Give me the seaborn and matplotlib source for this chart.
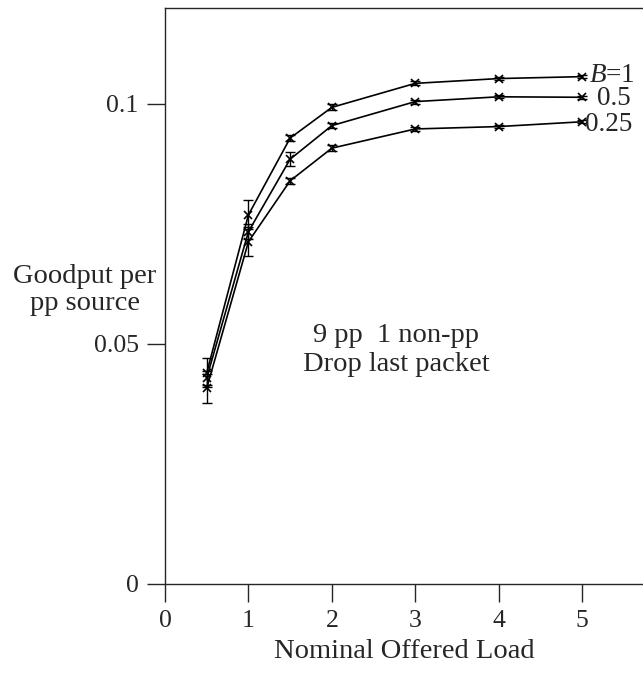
import matplotlib
matplotlib.use("Agg")
import matplotlib.pyplot as plt
import seaborn as sns
import pandas as pd

load = [0.5, 1, 1.5, 2, 3, 4, 5]
b_labels = ["1", "0.5", "0.25"]
good_b1 = [0.0440, 0.0769, 0.0929, 0.0993, 0.1043, 0.1053, 0.1057]
good_b05 = [0.0429, 0.0734, 0.0885, 0.0955, 0.1005, 0.1015, 0.1014]
good_b025 = [0.0408, 0.0713, 0.0840, 0.0908, 0.0948, 0.0953, 0.0963]
err_b1 = [0.0030, 0.0030, 0.0006, 0.0006, 0.0004, 0.0003, 0.0003]
err_b05 = [0.0015, 0.0015, 0.0014, 0.0006, 0.0004, 0.0003, 0.0003]
err_b025 = [0.0030, 0.0030, 0.0006, 0.0006, 0.0004, 0.0003, 0.0003]

series = [good_b1, good_b05, good_b025]
errs = [err_b1, err_b05, err_b025]

rows = []
for lab, ys in zip(b_labels, series):
    for x, y in zip(load, ys):
        rows.append({"load": x, "goodput": y, "B": lab})
df = pd.DataFrame(rows)

sns.set_style("ticks")
plt.rcParams["font.family"] = ["Liberation Serif", "DejaVu Serif"]
plt.rcParams["mathtext.fontset"] = "custom"
plt.rcParams["mathtext.it"] = "Liberation Serif:italic"
plt.rcParams["mathtext.rm"] = "Liberation Serif"

fig = plt.figure(figsize=(6.43, 6.77), dpi=100)
ax = fig.add_axes([165 / 643, 93 / 677, 1 - 165 / 643, 576 / 677])

sns.lineplot(data=df, x="load", y="goodput", hue="B", palette=["black"] * 3,
             marker="x", markersize=6, markeredgewidth=1.2,
             markeredgecolor="black", linewidth=1.2,
             legend=False, ax=ax)
for ys, es in zip(series, errs):
    ax.errorbar(load, ys, yerr=es, fmt="none", ecolor="black",
                elinewidth=1.0, capsize=3.5, capthick=1.0)

ax.set_xlim(0, 5.73)
ax.set_ylim(0, 0.12)
ax.set_xticks([0, 1, 2, 3, 4, 5])
ax.set_xticklabels(["0", "1", "2", "3", "4", "5"])
ax.set_yticks([0, 0.05, 0.1])
ax.set_yticklabels(["0", "0.05", "0.1"])
ax.tick_params(direction="out", length=13, width=1.0, labelsize=18.5, pad=6)
ax.spines["right"].set_visible(False)
for s in ["left", "bottom", "top"]:
    ax.spines[s].set_linewidth(1.0)

ax.set_xlabel("Nominal Offered Load", fontsize=20.5, labelpad=5)
ax.set_ylabel("")
fig.text(85 / 643, 1 - 290 / 677, "Goodput per\npp source", ha="center",
         va="center", fontsize=20.5, linespacing=1.15)

ax.text(5.08, good_b1[-1] + 0.0002, r"$B$=1", ha="left", va="center", fontsize=19.5)
ax.text(5.18, good_b05[-1] - 0.0003, "0.5", ha="left", va="center", fontsize=19.5)
ax.text(5.04, good_b025[-1] - 0.0006, "0.25", ha="left", va="center", fontsize=19.5)

ax.text(2.77, 0.0487, "9 pp  1 non-pp\nDrop last packet", ha="center",
        va="center", fontsize=20.5, linespacing=1.2)

fig.savefig("out.png", dpi=100)
